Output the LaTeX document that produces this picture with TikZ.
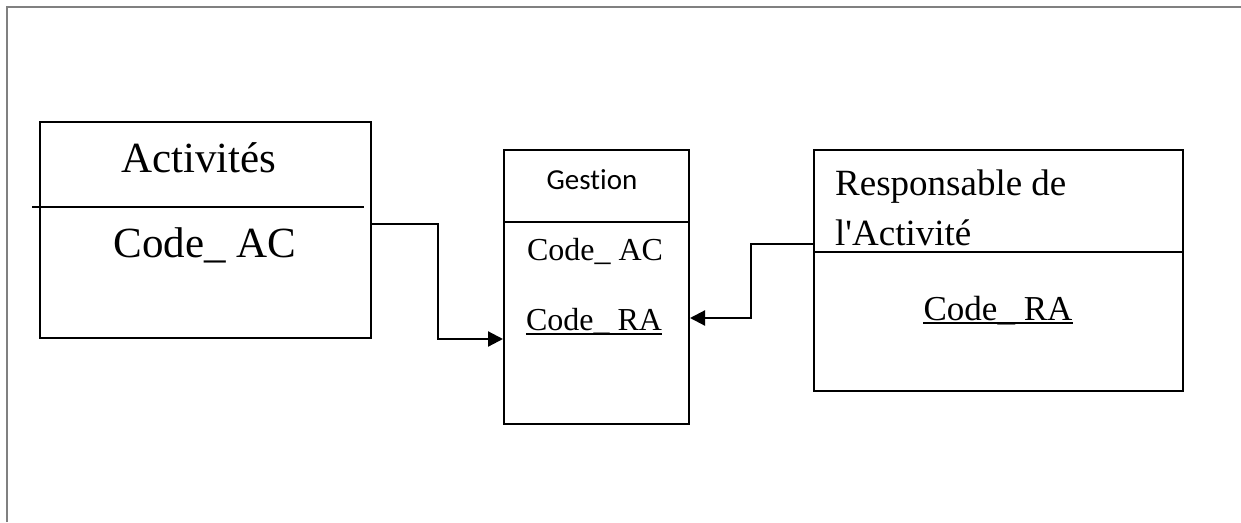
\documentclass[tikz,border=0pt]{standalone}
\usepackage{fontspec}
\setmainfont{Liberation Serif}
\newfontfamily\gestfont[Ligatures=NoCommon]{Carlito}
\usetikzlibrary{arrows.meta}
\tikzset{
  entity/.style={draw, line width=2pt, rectangle, anchor=north west, inner sep=0pt},
  divider/.style={line width=1.8pt},
  label/.style={inner sep=0pt, anchor=base},
  conn/.style={line width=2.2pt, -{Triangle[length=15pt,width=15pt]}},
  uline/.style={line width=2pt}
}
\begin{document}
\begin{tikzpicture}[x=1pt,y=-1pt]
\useasboundingbox (0,0) rectangle (1241,522);
% page frame (top and left edges)
\draw[black!50, line width=2pt] (7,522) -- (7,7) -- (1241,7);

% Activités
\node[entity, minimum width=331pt, minimum height=216pt] (act) at (39,121) {};
\draw[divider] (32,207) -- (364,207);
\node[label, font=\fontsize{43}{50}\selectfont] (actT) at (199,172) {Activités};
\node[label, font=\fontsize{43}{50}\selectfont] (actK) at (205,257) {Code\_ AC};

% Gestion
\node[entity, minimum width=185pt, minimum height=274pt] (ges) at (503,149) {};
\draw[divider] (ges.north west |- 0,222) -- (ges.north east |- 0,222);
\node[label, font=\gestfont\fontsize{29}{34}\selectfont] (gesT) at (592,189) {Gestion};
\node[label, font=\fontsize{32}{38}\selectfont] (gesA) at (595,260) {Code\_ AC};
\node[label, font=\fontsize{32}{38}\selectfont] (gesR) at (594,330) {Code\_ RA};
\draw[uline] ([yshift=-4pt]gesR.base west) -- ([yshift=-4pt]gesR.base east);

% Responsable de l'Activité
\node[entity, minimum width=369pt, minimum height=241pt] (res) at (813,149) {};
\draw[divider] (res.north west |- 0,252) -- (res.north east |- 0,252);
\node[label, anchor=base west, font=\fontsize{37}{44}\selectfont] (resT1) at (835,195) {Responsable de};
\node[label, anchor=base west, font=\fontsize{37}{44}\selectfont] (resT2) at (835,245) {l\textquotesingle Activité};
\node[label, font=\fontsize{35}{42}\selectfont] (resR) at (998,320) {Code\_ RA};
\draw[uline] ([yshift=-3pt]resR.base west) -- ([yshift=-3pt]resR.base east);

% links
\draw[conn] ([yshift=6pt]act.east) -- ++(66,0) |- ([yshift=-52pt]ges.west);
\draw[conn] ([yshift=26.5pt]res.west) -- ++(-62,0) |- ([yshift=-31pt]ges.east);
\end{tikzpicture}
\end{document}
